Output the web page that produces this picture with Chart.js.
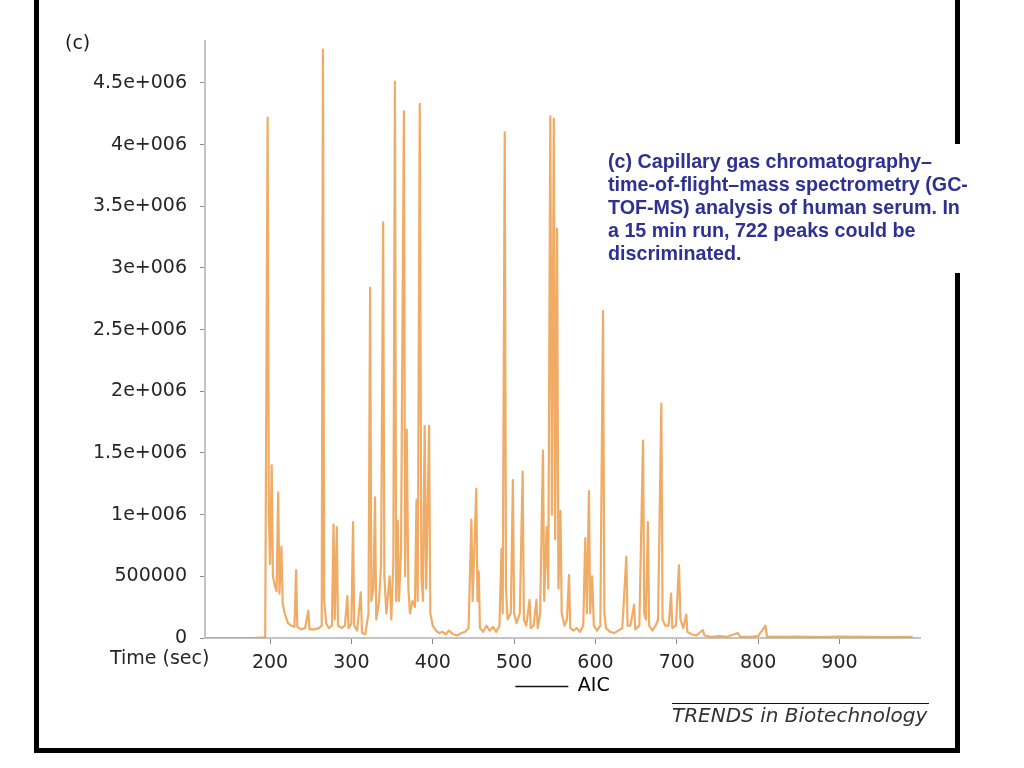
<!DOCTYPE html>
<html>
<head>
<meta charset="utf-8">
<title>GC-TOF-MS AIC</title>
<script src="https://cdn.jsdelivr.net/npm/chart.js@4.4.0/dist/chart.umd.min.js"></script>
<style>
  html, body { margin: 0; padding: 0; background: #fff; }
  #wrap { position: relative; width: 1024px; height: 768px; overflow: hidden; }
  #chart { position: absolute; left: 0; top: 0; }
  .bar { position: absolute; background: #000; }
  .txt { position: absolute; white-space: nowrap; font-family: "DejaVu Sans", sans-serif; color: #262626; }
  #caption {
    position: absolute; left: 608px; top: 150px;
    font-family: "Liberation Sans", Arial, sans-serif; font-weight: bold;
    font-size: 19.7px; line-height: 23px; color: #2e3191; white-space: nowrap;
  }
</style>
</head>
<body>
<div id="wrap">
  <canvas id="chart" width="1024" height="768" style="width:1024px;height:768px"></canvas>

  <!-- frame -->
  <div class="bar" style="left:34px;top:0;width:5px;height:753px"></div>
  <div class="bar" style="left:34px;top:748px;width:926px;height:5px"></div>
  <div class="bar" style="left:955px;top:0;width:5px;height:144px"></div>
  <div class="bar" style="left:955px;top:273px;width:5px;height:480px"></div>

  <div class="txt" style="left:65px;top:31px;font-size:19px;color:#1a1a1a">(c)</div>
  <div class="txt" style="left:110px;top:646px;font-size:19px">Time (sec)</div>

  <div id="caption">(c) Capillary gas chromatography–<br>time-of-flight–mass spectrometry (GC-<br>TOF-MS) analysis of human serum. In<br>a 15 min run, 722 peaks could be<br>discriminated.</div>

  <div style="position:absolute;left:672px;top:703px;width:257px;height:0;border-top:1.5px solid #111"></div>
  <div class="txt" style="left:672px;top:703px;font-size:20px;font-style:italic;color:#333">TRENDS in Biotechnology</div>
</div>

<script>
// retention time (s) and AIC intensity
const timeSec = [
  120, 150, 180, 194, 197, 198.5, 200, 202, 203.5, 206,
  208, 210, 211.5, 214, 215.5, 218, 222, 226, 230, 232,
  233.5, 238, 243, 247, 248.5, 254, 260, 263.5, 265, 266.5,
  269, 272, 276, 278, 279.5, 282, 283.5, 288, 292, 295,
  296.5, 300, 302, 303.5, 307, 311.5, 313, 317, 321, 323,
  324.5, 327, 329, 330.5, 334, 336.5, 339, 340.5, 343, 347,
  349, 351.5, 353.5, 355, 357, 358.5, 361, 364.5, 366, 368,
  370, 372, 375, 378, 380, 381.5, 384, 386, 388, 390,
  392, 395.5, 397, 400, 404, 408, 412, 416, 420, 425,
  430, 435, 440, 444, 447.5, 449, 451, 453.5, 455, 456.5,
  458, 462, 466, 470, 474, 478, 482, 484.5, 486, 488.5,
  490, 492, 496, 498.5, 500, 503, 507, 510.5, 512, 515,
  519, 520.5, 524, 527.5, 529, 532, 535.5, 537, 540, 542,
  544.5, 546.5, 548.8, 550.5, 552.8, 554.5, 557, 558.5, 562, 565,
  567.5, 569, 573, 577, 581, 585, 587.5, 589.5, 592, 593.5,
  596, 598, 602, 606, 609.3, 611, 613, 618, 623, 628,
  633, 638, 639.5, 643, 647.5, 649, 654, 658.5, 660, 662,
  664.5, 666, 670, 674, 677, 681, 682.5, 686, 690, 693,
  694.5, 699, 702.7, 704.5, 708, 711.7, 713, 718, 724, 732,
  734, 742, 752, 762, 775, 778, 790, 800, 809, 811,
  825, 850, 875, 900, 930, 960, 990
];
const aicCounts = [
  0, 0, 0, 5000, 4220000, 1000000, 600000, 1400000, 500000, 420000,
  380000, 1180000, 360000, 740000, 280000, 200000, 120000, 100000, 90000, 550000,
  90000, 70000, 80000, 220000, 70000, 70000, 80000, 100000, 4770000, 300000,
  120000, 80000, 100000, 920000, 150000, 900000, 100000, 80000, 100000, 340000,
  80000, 120000, 940000, 100000, 60000, 370000, 40000, 30000, 200000, 2840000,
  300000, 400000, 1140000, 150000, 300000, 600000, 3370000, 500000, 200000, 500000,
  150000, 600000, 4510000, 300000, 950000, 300000, 700000, 4270000, 500000, 1690000,
  400000, 200000, 300000, 250000, 1120000, 300000, 4330000, 500000, 300000, 1720000,
  400000, 1720000, 200000, 100000, 60000, 40000, 50000, 30000, 60000, 30000,
  20000, 40000, 50000, 80000, 960000, 300000, 700000, 1210000, 300000, 540000,
  80000, 50000, 100000, 60000, 90000, 50000, 100000, 720000, 200000, 4100000,
  400000, 150000, 200000, 1280000, 200000, 120000, 200000, 1350000, 150000, 100000,
  310000, 80000, 100000, 310000, 80000, 200000, 1520000, 300000, 900000, 400000,
  4230000, 1000000, 4210000, 800000, 3320000, 400000, 1030000, 200000, 100000, 150000,
  510000, 80000, 60000, 80000, 50000, 100000, 810000, 200000, 1190000, 200000,
  500000, 100000, 60000, 100000, 2650000, 200000, 80000, 50000, 40000, 60000,
  80000, 660000, 100000, 100000, 270000, 70000, 100000, 1600000, 200000, 150000,
  940000, 100000, 60000, 100000, 150000, 1900000, 150000, 100000, 100000, 360000,
  80000, 100000, 590000, 150000, 80000, 190000, 50000, 30000, 20000, 65000,
  20000, 10000, 15000, 10000, 40000, 10000, 10000, 15000, 100000, 10000,
  10000, 12000, 8000, 12000, 10000, 8000, 10000
];
const xTickValues = [200, 300, 400, 500, 600, 700, 800, 900];
const yTickValues = [0, 500000, 1000000, 1500000, 2000000, 2500000,
  3000000, 3500000, 4000000, 4500000];
const yTickLabels = ["0", "500000", "1e+006", "1.5e+006", "2e+006", "2.5e+006",
  "3e+006", "3.5e+006", "4e+006", "4.5e+006"];
const seriesName = "AIC";

const tickFont = { family: "DejaVu Sans", size: 19 };

new Chart(document.getElementById("chart").getContext("2d"), {
  type: "line",
  data: {
    datasets: [{
      label: seriesName,
      data: timeSec.map((t, i) => ({ x: t, y: aicCounts[i] })),
      borderColor: "rgba(236,150,62,0.8)",
      borderWidth: 2.2,
      borderJoinStyle: "round",
      pointRadius: 0,
      tension: 0,
    }],
  },
  options: {
    responsive: false,
    animation: false,
    layout: { padding: { left: 0, top: 41, right: 104, bottom: 62 } },
    plugins: {
      tooltip: { enabled: false },
      legend: {
        position: "bottom",
        fullSize: false,
        labels: {
          font: tickFont,
          color: "#222",
          boxWidth: 53,
          boxHeight: 1.5,
          padding: 9,
          generateLabels: () => [{
            text: seriesName, fillStyle: "#111", strokeStyle: "#111",
            lineWidth: 0, hidden: false, datasetIndex: 0,
          }],
        },
      },
    },
    scales: {
      x: {
        type: "linear",
        bounds: "data",
        min: 120,
        max: 999,
        afterFit: (s) => { s.height = 30; },
        afterBuildTicks: (s) => { s.ticks = xTickValues.map((v) => ({ value: v })); },
        border: { color: "#c4c4c4", width: 2 },
        grid: { drawOnChartArea: false, tickLength: 6, color: "#8c8c8c" },
        ticks: { font: tickFont, color: "#262626", padding: 8, maxRotation: 0, autoSkip: false,
          callback: (v) => String(v) },
      },
      y: {
        bounds: "data",
        min: 0,
        max: 4840000,
        afterFit: (s) => { s.width = 205; },
        afterBuildTicks: (s) => { s.ticks = yTickValues.map((v) => ({ value: v })); },
        border: { color: "#c4c4c4", width: 2 },
        grid: { drawOnChartArea: false, tickLength: 5, color: "#8c8c8c" },
        ticks: {
          font: tickFont,
          color: "#262626",
          padding: 13,
          autoSkip: false,
          callback: (v) => yTickLabels[yTickValues.indexOf(v)],
        },
      },
    },
  },
});
</script>
</body>
</html>
